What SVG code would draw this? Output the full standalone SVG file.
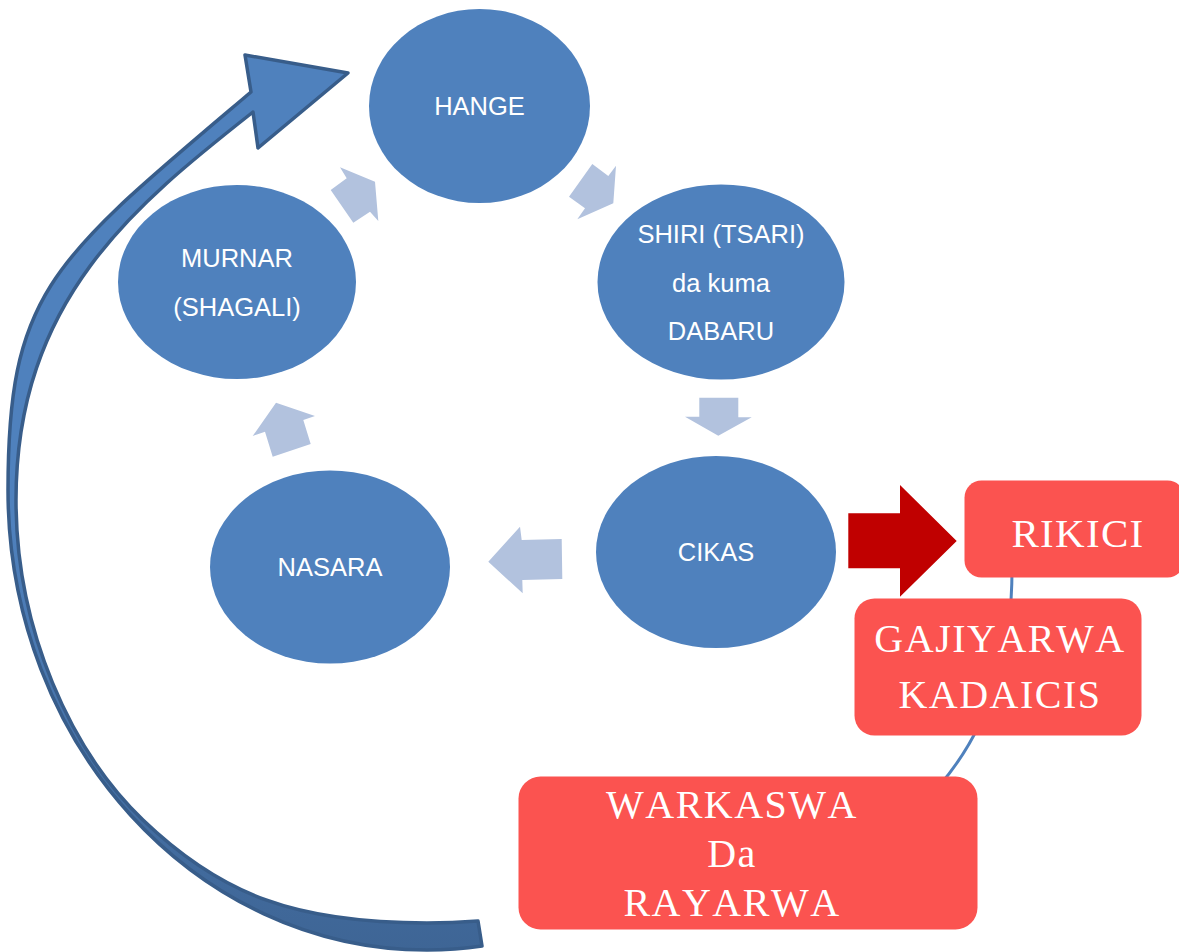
<svg xmlns="http://www.w3.org/2000/svg" width="1179" height="952" viewBox="0 0 1179 952">
<defs>
<linearGradient id="bigGrad" gradientUnits="userSpaceOnUse" x1="0" y1="0" x2="0" y2="952">
<stop offset="0" stop-color="#4F81BD"/>
<stop offset="0.55" stop-color="#4F81BD"/>
<stop offset="1" stop-color="#3E6595"/>
</linearGradient>
</defs>
<style>
.circ{fill:#4F81BD}
.ctext{font-family:"Liberation Sans",Arial,sans-serif;font-size:25.5px;fill:#FFFFFF;text-anchor:middle}
.box{fill:#FB5350}
.btext{font-family:"Liberation Serif","Times New Roman",serif;font-size:40px;fill:#FFFFFF;text-anchor:middle;letter-spacing:1.5px;font-kerning:none}
.light{fill:#B2C2DE}
</style>
<rect width="1179" height="952" fill="#FFFFFF"/>
<g id="connectors">
<path id="cycle-arrow" d="M482,946 Q455,950 427,950 C195.6,950 8,744 8,490 C8,290 52.6,260 251,92 L245,55 L348,73 L258,148 L253,112 C135,205 16,300 16,500 C16,630 71,751 143,820 C222.2,895.9 297,923 427,923 Q452,923 478,921 Z" fill="url(#bigGrad)" stroke="#385D8A" stroke-width="3.5" stroke-linejoin="round"/>
<polygon class="light" points="340,167.3 375,181.7 378.3,221 370,211.7 353.3,222.7 330.7,190 346.7,178.3"/>
<polygon class="light" points="592.3,164 608.3,176 616,165.7 613.3,203.3 577.3,219.3 585,208.3 569,196.7"/>
<polygon class="light" points="699.3,397.7 738.3,397.7 738.3,417.3 751.7,417.3 718.3,435.7 685,416.7 699.3,416.7"/>
<polygon class="light" points="520,526.7 521.7,540 561.7,539 562.3,579 522.3,580 522.7,593.3 488.3,561.7"/>
<polygon class="light" points="276,402.7 315,416 303.3,420 310.7,444 272.7,456.7 265,431.7 252.7,436"/>
<polygon points="848.3,513.3 900,513.3 900,485 956.7,541 900,596.7 900,568.3 848.3,568.3" fill="#C00000"/>
<path d="M1012,570 Q1012,700 940,785" fill="none" stroke="#4F81BD" stroke-width="3"/>
</g>
<g id="hange">
<ellipse class="circ" cx="479.5" cy="106" rx="110.5" ry="97"/>
<text class="ctext" x="479.5" y="115">HANGE</text>
</g>
<g id="shiri">
<ellipse class="circ" cx="721" cy="282" rx="123.5" ry="97.5"/>
<text class="ctext" x="721" y="243">SHIRI (TSARI)</text>
<text class="ctext" x="721" y="292">da kuma</text>
<text class="ctext" x="721" y="340">DABARU</text>
</g>
<g id="cikas">
<ellipse class="circ" cx="716" cy="552" rx="120" ry="96"/>
<text class="ctext" x="716" y="561">CIKAS</text>
</g>
<g id="nasara">
<ellipse class="circ" cx="330" cy="567" rx="120" ry="96.5"/>
<text class="ctext" x="330" y="576">NASARA</text>
</g>
<g id="murnar">
<ellipse class="circ" cx="237" cy="282" rx="119" ry="97"/>
<text class="ctext" x="237" y="267">MURNAR</text>
<text class="ctext" x="237" y="316">(SHAGALI)</text>
</g>
<g id="rikici">
<rect class="box" x="964.5" y="480.5" width="220" height="97" rx="17"/>
<text class="btext" x="1078" y="547" style="font-size:41px;letter-spacing:1.3px">RIKICI</text>
</g>
<g id="gajiyarwa">
<rect class="box" x="854.5" y="598.5" width="287" height="137" rx="20"/>
<text class="btext" x="1000" y="652">GAJIYARWA</text>
<text class="btext" x="1000" y="708">KADAICIS</text>
</g>
<g id="warkaswa">
<rect class="box" x="518.5" y="776.5" width="459" height="153" rx="22"/>
<text class="btext" x="732" y="818">WARKASWA</text>
<text class="btext" x="732" y="867">Da</text>
<text class="btext" x="732" y="916">RAYARWA</text>
</g>
</svg>
